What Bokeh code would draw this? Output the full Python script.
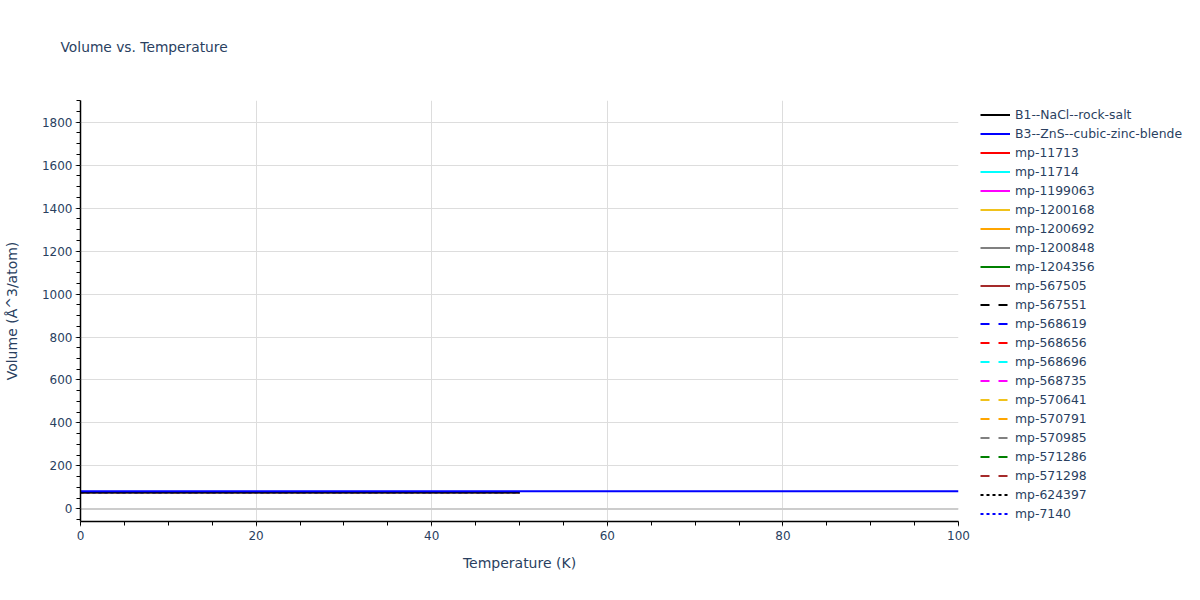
from bokeh.plotting import figure
from bokeh.models import Legend, LegendItem, Range1d, Span, SingleIntervalTicker
from bokeh.embed import file_html
from bokeh.resources import INLINE

# ---- data ----
names = ["B1--NaCl--rock-salt", "B3--ZnS--cubic-zinc-blende", "mp-11713", "mp-11714",
         "mp-1199063", "mp-1200168", "mp-1200692", "mp-1200848", "mp-1204356", "mp-567505",
         "mp-567551", "mp-568619", "mp-568656", "mp-568696", "mp-568735", "mp-570641",
         "mp-570791", "mp-570985", "mp-571286", "mp-571298", "mp-624397", "mp-7140"]
colors = ["black", "blue", "red", "cyan", "magenta", "#f0c21c", "orange", "gray", "green", "brown",
          "black", "blue", "red", "cyan", "magenta", "#f0c21c", "orange", "gray", "green", "brown",
          "black", "blue"]
dashes = ["solid"] * 10 + ["dashed"] * 10 + ["dotted"] * 2

temp_short = [0, 10, 20, 30, 40, 50]
vol_short = [77.0, 77.0, 77.1, 77.1, 77.2, 77.3]
temp_long = [0, 10, 20, 30, 40, 50, 60, 70, 80, 90, 100]
vol_b3 = [82.0, 82.0, 82.0, 82.1, 82.1, 82.1, 82.2, 82.2, 82.2, 82.3, 82.3]

x_ticks_major = 20
y_ticks_major = 200

TXT = "#2a3f5f"
FONT = "DejaVu Sans"

p = figure(output_backend="svg", toolbar_location=None,
           frame_width=878, frame_height=421,
           min_border_left=80, min_border_right=226, min_border_top=100, min_border_bottom=63,
           x_range=Range1d(0, 100), y_range=Range1d(-58.7, 1901),
           title="Volume vs. Temperature\n\u00a0")
p.outline_line_color = None
p.background_fill_color = "white"
p.border_fill_color = "white"

p.title.text_font = FONT
p.title.text_font_size = "13.8px"
p.title.text_font_style = "normal"
p.title.text_color = TXT
p.title.align = "left"
p.title.offset = -20
p.title.standoff = 59

dash_map = {"solid": "solid", "dashed": "9 9", "dotted": "3 3"}

renderers = {}
# draw other traces first (underneath), then B1, then B3 on top
order = list(range(2, len(names))) + [0, 1]
for i in order:
    if i == 1:
        xs, ys = temp_long, vol_b3
    else:
        xs, ys = temp_short, vol_short
    r = p.line(xs, ys, line_color=colors[i], line_width=2, line_dash=dash_map[dashes[i]])
    renderers[i] = r

items = [LegendItem(label=names[i], renderers=[renderers[i]]) for i in range(len(names))]
legend = Legend(items=items, location=(22, -2), padding=0, spacing=0, margin=0,
                glyph_width=30, glyph_height=19, label_height=19, label_standoff=5,
                label_text_font=FONT, label_text_font_size="12.4px", label_text_color=TXT,
                border_line_color=None, background_fill_alpha=0)
p.add_layout(legend, "right")

# axes
p.xaxis.ticker = SingleIntervalTicker(interval=x_ticks_major, num_minor_ticks=4)
p.yaxis.ticker = SingleIntervalTicker(interval=y_ticks_major, num_minor_ticks=4)
p.xaxis.axis_label = "Temperature (K)"
p.yaxis.axis_label = "Volume (Å^3/atom)"
for ax in (p.xaxis, p.yaxis):
    ax.axis_label_text_font = FONT
    ax.axis_label_text_font_size = "14px"
    ax.axis_label_text_font_style = "normal"
    ax.axis_label_text_color = TXT
    ax.major_label_text_font = FONT
    ax.major_label_text_font_size = "12px"
    ax.major_label_text_color = TXT
    ax.axis_line_color = "black"
    ax.axis_line_width = 1.5
    ax.major_tick_line_color = "#888888"
    ax.major_tick_in = 0
    ax.major_tick_out = 5
    ax.minor_tick_line_color = "black"
    ax.minor_tick_in = 0
    ax.minor_tick_out = 4
p.xaxis.major_label_standoff = 4
p.xaxis.axis_label_standoff = 12
p.yaxis.major_label_standoff = 3
p.yaxis.axis_label_standoff = 19

p.xgrid.grid_line_color = "#dddddd"
p.ygrid.grid_line_color = "#dddddd"
p.xgrid.grid_line_width = 1
p.ygrid.grid_line_width = 1

zero = Span(location=0, dimension="width", line_color="#cccccc", line_width=2, level="underlay")
p.add_layout(zero)

open("out.html", "w").write(file_html(p, INLINE))
